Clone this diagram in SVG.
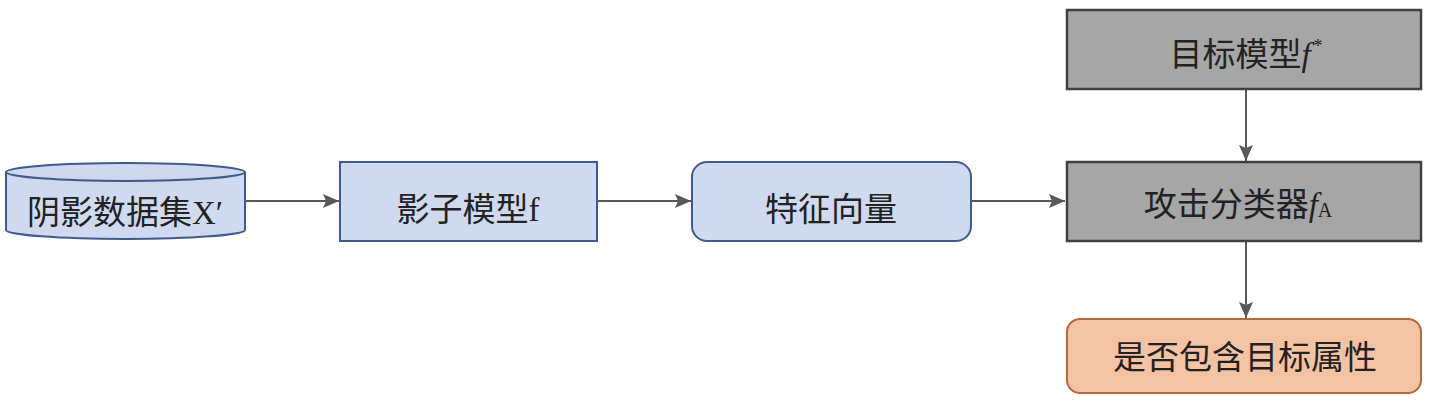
<svg xmlns="http://www.w3.org/2000/svg" width="1430" height="402" viewBox="0 0 1430 402">
<defs>
<style>
.t{font-family:"Liberation Serif","Noto Sans CJK SC",serif;font-size:33px;fill:#222;text-anchor:middle}
.blue{fill:#cfdaf0;stroke:#3f5b8c;stroke-width:2}
.gray{fill:#a6a6a6;stroke:#404040;stroke-width:2.5}
.orange{fill:#f4c3a4;stroke:#b5693e;stroke-width:2}
.c{stroke:#595959;stroke-width:2;fill:none;marker-end:url(#ah)}
.i{font-style:italic}
</style>
<marker id="ah" viewBox="0 0 16 14" refX="16" refY="7" markerWidth="16" markerHeight="14" markerUnits="userSpaceOnUse" orient="auto">
<path d="M0,0 L16,7 L0,14 L3,7 Z" fill="#595959"/>
</marker>
</defs>
<g id="connectors">
<line class="c" x1="246" y1="201" x2="339" y2="201"/>
<line class="c" x1="598" y1="201" x2="691" y2="201"/>
<line class="c" x1="972" y1="201" x2="1065" y2="201"/>
<line class="c" x1="1246" y1="90" x2="1246" y2="161"/>
<line class="c" x1="1246" y1="242" x2="1246" y2="318"/>
</g>
<g id="shadow-dataset">
<path class="blue" d="M6,172 L6,230 A119.5,9 0 0 0 245,230 L245,172"/>
<ellipse class="blue" cx="125.5" cy="172" rx="119.5" ry="9"/>
<text class="t" x="125" y="224">阴影数据集X′</text>
</g>
<g id="shadow-model">
<rect class="blue" x="340" y="162" width="257" height="79"/>
<text class="t" x="468" y="221">影子模型f</text>
</g>
<g id="feature-vector">
<rect class="blue" x="692" y="162" width="279" height="79" rx="15"/>
<text class="t" x="831" y="221">特征向量</text>
</g>
<g id="target-model">
<rect class="gray" x="1067" y="10" width="354" height="79"/>
<text class="t" x="1246" y="66">目标模型<tspan class="i">f</tspan><tspan font-size="18" dx="3" dy="-14">*</tspan></text>
</g>
<g id="attack-classifier">
<rect class="gray" x="1067" y="162" width="354" height="79"/>
<text class="t" x="1238" y="216">攻击分类器<tspan class="i">f</tspan><tspan font-size="20" dy="1">A</tspan></text>
</g>
<g id="result">
<rect class="orange" x="1067" y="319" width="354" height="74" rx="13"/>
<text class="t" x="1245" y="369">是否包含目标属性</text>
</g>
</svg>
